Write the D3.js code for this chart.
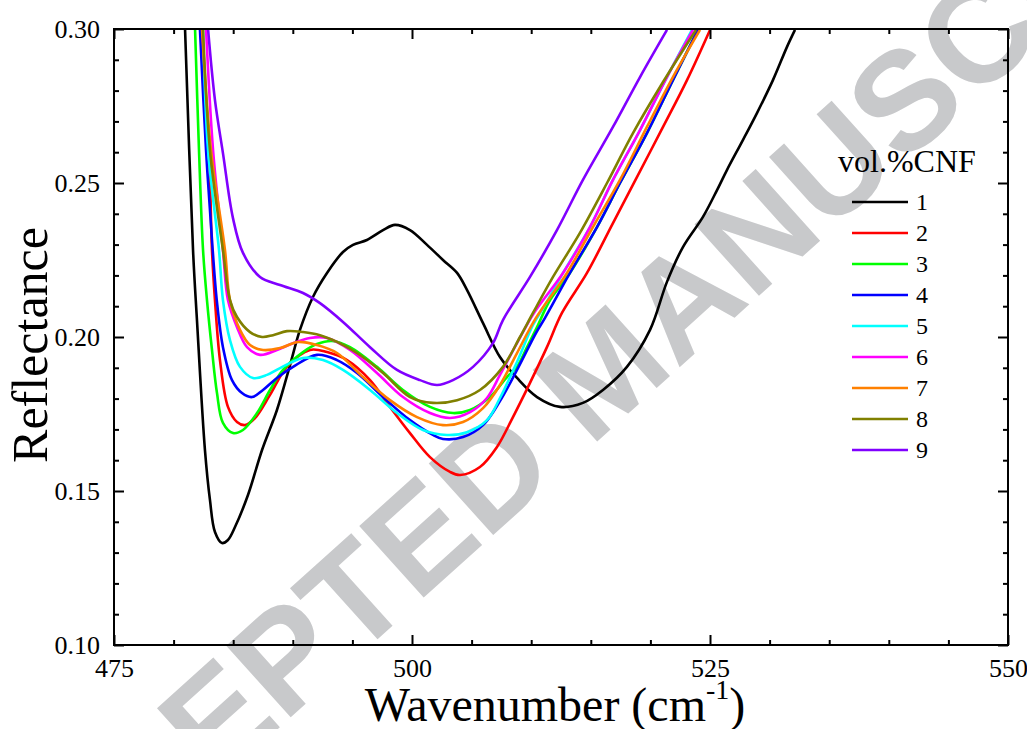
<!DOCTYPE html>
<html>
<head>
<meta charset="utf-8">
<script src="https://cdn.jsdelivr.net/npm/d3@7"></script>
<style>
  body { margin: 0; background: #fff; }
  svg text { font-family: "Liberation Serif", "Times New Roman", serif; fill: #000; }
</style>
</head>
<body>
<svg id="chart" width="1027" height="729"></svg>
<script>
// Axis ticks
const xMajorTicks = [475, 500, 525, 550];
const xMinorTicks = d3.range(480, 550, 5).filter(v => v % 25 !== 0);
const yMajorTicks = [0.10, 0.15, 0.20, 0.25, 0.30];
const yMinorTicks = [0.11, 0.12, 0.13, 0.14, 0.16, 0.17, 0.18, 0.19, 0.21, 0.22, 0.23, 0.24, 0.26, 0.27, 0.28, 0.29];

// Series: vol.% CNF content and colours
const seriesNames = ["1", "2", "3", "4", "5", "6", "7", "8", "9"];
const seriesColors = ["#000000", "#ff0000", "#00ff00", "#0000ff", "#00ffff", "#ff00ff", "#ff8000", "#808000", "#8000ff"];

// Reflectance spectra, [wavenumber (cm^-1), reflectance]
const cnf1 = [[480.96,0.3000],[481.63,0.2282],[481.96,0.2055],[482.63,0.1633],[483.05,0.1471],[483.47,0.1367],[484.06,0.1331],[484.56,0.1341],[485.15,0.1383],[486.24,0.1487],[487.42,0.1633],[488.67,0.1763],[489.77,0.1909],[490.60,0.2023],[491.69,0.2130],[492.87,0.2208],[494.21,0.2276],[495.05,0.2299],[496.22,0.2315],[497.57,0.2347],[498.57,0.2364],[499.83,0.2347],[501.26,0.2299],[502.60,0.2250],[503.78,0.2208],[504.61,0.2153],[505.96,0.2045],[507.38,0.1935],[508.81,0.1867],[510.49,0.1805],[512.42,0.1773],[514.34,0.1786],[516.02,0.1828],[518.03,0.1903],[519.97,0.2023],[521.39,0.2179],[522.73,0.2292],[524.41,0.2390],[525.59,0.2477],[526.42,0.2542],[527.77,0.2640],[528.94,0.2727],[530.28,0.2834],[531.46,0.2942],[532.13,0.2997]];
const cnf2 = [[482.30,0.3000],[482.97,0.2607],[483.22,0.2282],[483.47,0.2120],[483.89,0.1925],[484.56,0.1773],[485.32,0.1724],[485.99,0.1714],[486.83,0.1737],[488.09,0.1812],[489.51,0.1903],[491.44,0.1958],[492.87,0.1951],[494.55,0.1925],[496.48,0.1860],[498.15,0.1773],[499.83,0.1688],[501.51,0.1610],[503.19,0.1562],[504.03,0.1552],[505.70,0.1578],[507.13,0.1643],[508.47,0.1740],[509.90,0.1851],[511.32,0.1967],[512.58,0.2078],[514.68,0.2208],[516.86,0.2370],[518.87,0.2519],[521.06,0.2682],[523.07,0.2834],[525.00,0.2997]];
const cnf3 = [[481.80,0.3000],[482.13,0.2607],[482.47,0.2282],[482.80,0.2120],[483.22,0.1958],[483.64,0.1818],[484.14,0.1721],[484.98,0.1688],[485.82,0.1698],[487.00,0.1753],[488.09,0.1828],[489.18,0.1893],[490.86,0.1951],[492.03,0.1977],[493.29,0.1987],[494.80,0.1967],[497.06,0.1903],[499.24,0.1828],[501.51,0.1773],[503.44,0.1753],[504.87,0.1763],[506.54,0.1805],[507.97,0.1870],[508.81,0.1903],[509.65,0.1967],[510.49,0.2032],[511.58,0.2120],[513.25,0.2208],[515.52,0.2357],[517.45,0.2500],[519.71,0.2662],[521.89,0.2834],[523.99,0.2997]];
const cnf4 = [[482.21,0.3000],[482.72,0.2607],[483.28,0.2282],[483.62,0.2120],[484.14,0.1967],[484.90,0.1860],[485.74,0.1818],[486.58,0.1805],[487.50,0.1828],[488.67,0.1867],[490.02,0.1903],[492.03,0.1942],[493.71,0.1925],[495.39,0.1883],[497.57,0.1805],[499.83,0.1730],[501.76,0.1682],[502.60,0.1669],[504.28,0.1675],[505.96,0.1714],[507.38,0.1792],[508.89,0.1899],[510.40,0.2013],[511.16,0.2062],[513.25,0.2208],[515.52,0.2357],[517.45,0.2500],[519.71,0.2662],[521.89,0.2834],[523.99,0.2997]];
const cnf5 = [[482.47,0.3000],[482.89,0.2607],[483.81,0.2282],[484.14,0.2120],[484.73,0.1990],[485.57,0.1903],[486.66,0.1867],[487.84,0.1877],[488.93,0.1899],[490.86,0.1932],[492.53,0.1925],[494.21,0.1893],[496.48,0.1828],[498.74,0.1753],[500.92,0.1698],[502.94,0.1682],[504.61,0.1691],[506.29,0.1730],[507.38,0.1802],[508.81,0.1919],[510.15,0.2039],[511.16,0.2104],[512.67,0.2208],[514.93,0.2357],[516.86,0.2510],[519.13,0.2672],[521.39,0.2844],[523.49,0.2997]];
const cnf6 = [[482.72,0.3000],[483.31,0.2607],[484.14,0.2282],[484.56,0.2120],[485.32,0.2032],[486.16,0.1967],[487.25,0.1942],[488.67,0.1958],[490.02,0.1980],[491.44,0.1997],[492.87,0.1997],[494.80,0.1958],[497.06,0.1883],[499.24,0.1805],[501.51,0.1753],[503.19,0.1737],[504.87,0.1756],[506.29,0.1802],[507.38,0.1877],[508.81,0.1980],[510.23,0.2078],[512.67,0.2208],[514.93,0.2357],[516.86,0.2510],[519.13,0.2672],[521.39,0.2844],[523.57,0.2997]];
const cnf7 = [[482.38,0.3000],[483.14,0.2607],[484.31,0.2282],[484.73,0.2120],[485.57,0.2023],[486.41,0.1974],[487.50,0.1958],[488.93,0.1964],[490.44,0.1984],[492.03,0.1974],[493.71,0.1948],[495.89,0.1870],[498.15,0.1795],[500.42,0.1740],[502.60,0.1714],[504.28,0.1724],[505.96,0.1769],[507.38,0.1844],[508.81,0.1948],[510.40,0.2062],[513.00,0.2208],[515.18,0.2357],[517.45,0.2510],[519.71,0.2682],[521.89,0.2844],[524.16,0.2997]];
const cnf8 = [[482.47,0.3000],[483.05,0.2607],[484.14,0.2282],[484.73,0.2120],[485.32,0.2065],[486.41,0.2016],[487.42,0.2000],[488.34,0.2006],[489.51,0.2019],[490.86,0.2016],[492.28,0.2006],[493.71,0.1984],[495.39,0.1948],[497.57,0.1883],[499.83,0.1805],[501.76,0.1786],[503.78,0.1795],[505.70,0.1828],[507.63,0.1903],[509.06,0.2000],[510.15,0.2078],[511.83,0.2195],[514.09,0.2338],[516.36,0.2500],[518.54,0.2662],[521.06,0.2828],[523.82,0.2997]];
const cnf9 = [[482.89,0.3000],[483.47,0.2769],[484.14,0.2597],[484.98,0.2386],[485.82,0.2273],[487.25,0.2195],[488.93,0.2169],[490.86,0.2143],[492.28,0.2110],[494.21,0.2049],[496.48,0.1967],[498.74,0.1893],[500.67,0.1860],[502.10,0.1844],[503.44,0.1860],[505.12,0.1903],[506.79,0.1980],[507.63,0.2055],[509.90,0.2195],[512.16,0.2347],[514.34,0.2510],[516.86,0.2682],[519.13,0.2844],[521.39,0.2997]];

const spectra = [cnf1, cnf2, cnf3, cnf4, cnf5, cnf6, cnf7, cnf8, cnf9];

const width = 1027, height = 729;
const margin = { top: 29, right: 19, bottom: 84, left: 114 };
const innerW = width - margin.left - margin.right;
const innerH = height - margin.top - margin.bottom;

const svg = d3.select("#chart");

// Journal watermark, drawn underneath the plot
svg.append("text")
  .attr("transform", "translate(604,370) rotate(-42)")
  .attr("text-anchor", "middle")
  .attr("dominant-baseline", "central")
  .style("font-family", "'Liberation Sans', Arial, sans-serif")
  .style("font-weight", "bold")
  .style("font-size", "140px")
  .style("fill", "#c8c9cb")
  .text("ACCEPTED MANUSCRIPT");

const x = d3.scaleLinear().domain([475, 550]).range([margin.left, margin.left + innerW]);
const y = d3.scaleLinear().domain([0.10, 0.30]).range([margin.top + innerH, margin.top]);

svg.append("defs").append("clipPath").attr("id", "plot-clip")
  .append("rect")
  .attr("x", margin.left).attr("y", margin.top)
  .attr("width", innerW).attr("height", innerH);

// Spectra
const line = d3.line()
  .x(d => x(d[0]))
  .y(d => y(d[1]))
  .curve(d3.curveCatmullRom.alpha(0.5));

svg.append("g").attr("clip-path", "url(#plot-clip)")
  .selectAll("path")
  .data(spectra)
  .join("path")
  .attr("d", line)
  .attr("fill", "none")
  .attr("stroke", (d, i) => seriesColors[i])
  .attr("stroke-width", 2.6)
  .attr("stroke-linejoin", "round");

// Axes: inward ticks on all four sides
function styleAxis(g) {
  g.attr("font-family", null).attr("font-size", null);
  g.select(".domain").remove();
  g.selectAll(".tick line").attr("stroke", "#000").attr("stroke-width", 2);
  g.selectAll(".tick text")
    .style("font-family", "'Liberation Serif', 'Times New Roman', serif")
    .style("font-size", "26px")
    .attr("fill", "#000");
}

const bottom = margin.top + innerH;
const right = margin.left + innerW;

svg.append("g").attr("transform", `translate(0,${bottom})`)
  .call(d3.axisBottom(x).tickValues(xMajorTicks).tickSize(-10).tickPadding(14).tickFormat(d3.format("d")))
  .call(styleAxis);
svg.append("g").attr("transform", `translate(0,${bottom})`)
  .call(d3.axisBottom(x).tickValues(xMinorTicks).tickSize(-5).tickFormat(""))
  .call(styleAxis);
svg.append("g").attr("transform", `translate(0,${margin.top})`)
  .call(d3.axisTop(x).tickValues(xMajorTicks).tickSize(-10).tickFormat(""))
  .call(styleAxis);
svg.append("g").attr("transform", `translate(0,${margin.top})`)
  .call(d3.axisTop(x).tickValues(xMinorTicks).tickSize(-5).tickFormat(""))
  .call(styleAxis);

svg.append("g").attr("transform", `translate(${margin.left},0)`)
  .call(d3.axisLeft(y).tickValues(yMajorTicks).tickSize(-10).tickPadding(14).tickFormat(d3.format(".2f")))
  .call(styleAxis);
svg.append("g").attr("transform", `translate(${margin.left},0)`)
  .call(d3.axisLeft(y).tickValues(yMinorTicks).tickSize(-5).tickFormat(""))
  .call(styleAxis);
svg.append("g").attr("transform", `translate(${right},0)`)
  .call(d3.axisRight(y).tickValues(yMajorTicks).tickSize(-10).tickFormat(""))
  .call(styleAxis);
svg.append("g").attr("transform", `translate(${right},0)`)
  .call(d3.axisRight(y).tickValues(yMinorTicks).tickSize(-5).tickFormat(""))
  .call(styleAxis);

// Frame
svg.append("rect")
  .attr("x", margin.left).attr("y", margin.top)
  .attr("width", innerW).attr("height", innerH)
  .attr("fill", "none").attr("stroke", "#000").attr("stroke-width", 2);

// Axis titles
svg.append("text")
  .attr("transform", "translate(47,345) rotate(-90)")
  .attr("text-anchor", "middle")
  .style("font-size", "50px")
  .text("Reflectance");

const xTitle = svg.append("text")
  .attr("x", 555)
  .attr("y", 721)
  .attr("text-anchor", "middle")
  .style("font-size", "48px");
xTitle.append("tspan").text("Wavenumber (cm");
xTitle.append("tspan").attr("dy", -22).style("font-size", "28px").text("-1");
xTitle.append("tspan").attr("dy", 22).text(")");

// Legend
const legend = svg.append("g");
legend.append("text")
  .attr("x", 838).attr("y", 172)
  .style("font-size", "32px")
  .text("vol.%CNF");

const items = legend.selectAll("g.item")
  .data(seriesNames)
  .join("g")
  .attr("class", "item")
  .attr("transform", (d, i) => `translate(0,${202 + i * 31})`);
items.append("line")
  .attr("x1", 852).attr("x2", 908)
  .attr("stroke", (d, i) => seriesColors[i])
  .attr("stroke-width", 2.6);
items.append("text")
  .attr("x", 916).attr("y", 8)
  .style("font-size", "24px")
  .text(d => d);
</script>
</body>
</html>
